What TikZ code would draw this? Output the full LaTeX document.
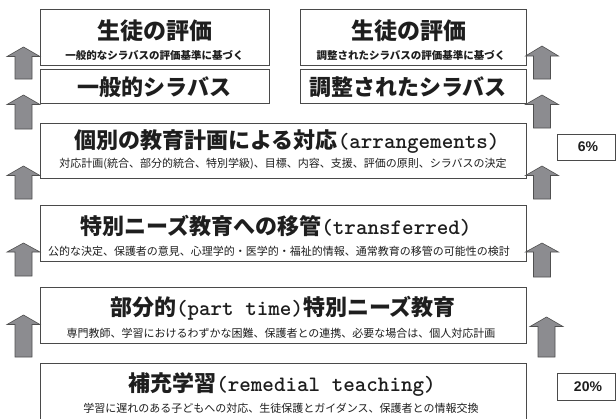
\documentclass[tikz,border=0pt]{standalone}
\usepackage{fontspec}
\newfontfamily\jp{Noto Sans CJK JP}
\newfontfamily\numfont{Liberation Sans}
\definecolor{boxline}{HTML}{4A4A4A}
\definecolor{arrfill}{HTML}{8C8C90}
\definecolor{arrline}{HTML}{505050}
\definecolor{txt}{HTML}{1E1E1E}
\tikzset{
  panel/.style={draw=boxline, line width=0.9pt, fill=white, inner sep=0pt},
  bigtitle/.style={text=txt, inner sep=0pt, font=\jp\bfseries\fontsize{22}{24}\selectfont},
  toptitle/.style={text=txt, inner sep=0pt, font=\jp\bfseries\fontsize{23}{25}\selectfont},
  subbold/.style={text=txt, inner sep=0pt, font=\jp\bfseries\fontsize{10.5}{12}\selectfont},
  subtext/.style={text=txt, inner sep=0pt, font=\jp\fontsize{11}{13}\selectfont},
  pct/.style={text=txt, inner sep=0pt, font=\numfont\bfseries\fontsize{14}{16}\selectfont},
  blockarr/.style={fill=arrfill, draw=arrline, line width=0.6pt, line join=miter}
}
% #1 centre x, #2 tip y, #3 head base y, #4 bottom y
\newcommand{\blkarrow}[4]{%
  \path[blockarr] (#1-8.5,#4) -- (#1-8.5,#3) -- (#1-16.5,#3) -- (#1,#2)
    -- (#1+16.5,#3) -- (#1+8.5,#3) -- (#1+8.5,#4) -- cycle;}
\newcommand{\mono}[1]{{\ttfamily\fontsize{22}{24}\selectfont #1}}
\begin{document}
\begin{tikzpicture}[x=1pt, y=-1pt]
\path[use as bounding box, clip] (0,0) rectangle (616,418);
\fill[white] (0,0) rectangle (616,418);

% boxes
\node[panel, minimum width=229pt, minimum height=56pt] (evalL) at (154.5,37) {};
\node[panel, minimum width=226pt, minimum height=56pt] (evalR) at (413,37) {};
\node[panel, minimum width=229pt, minimum height=34pt] (sylL) at (154.5,86) {};
\node[panel, minimum width=226pt, minimum height=34pt] (sylR) at (413,86) {};
\node[panel, minimum width=486pt, minimum height=55pt] (arr) at (283,150.5) {};
\node[panel, minimum width=486pt, minimum height=56pt] (trans) at (283,233) {};
\node[panel, minimum width=486pt, minimum height=56pt] (part) at (283,315) {};
\node[panel, minimum width=486pt, minimum height=70pt] (rem) at (283,398) {};
\node[panel, minimum width=58pt, minimum height=26pt] (p6) at (586,147) {};
\node[panel, minimum width=58pt, minimum height=27pt] (p20) at (586,386.5) {};

% arrows left
\blkarrow{23.5}{47}{56.5}{79}
\blkarrow{23.5}{95}{104.5}{129}
\blkarrow{23.5}{166}{175.5}{199}
\blkarrow{23.5}{243}{252}{276}
\blkarrow{23.5}{315}{324.5}{357}
% arrows right
\blkarrow{542}{46}{56}{79}
\blkarrow{542}{95}{104.5}{128}
\blkarrow{542}{166}{175.5}{199}
\blkarrow{542}{243}{252}{277}
\blkarrow{546.5}{317}{326.5}{357}

% texts
\node[toptitle] (evalLt) at (154.5,31) {生徒の評価};
\node[subbold] (evalLs) at (154.5,55) {一般的なシラバスの評価基準に基づく};
\node[toptitle] (evalRt) at (409,31) {生徒の評価};
\node[subbold] (evalRs) at (411,55) {調整されたシラバスの評価基準に基づく};
\node[bigtitle] (sylLt) at (154.5,87) {一般的シラバス};
\node[bigtitle] (sylRt) at (408,87) {調整されたシラバス};

\node[bigtitle] (arrt) at (287,142) {個別の教育計画による対応\mono{(arrangements)}};
\node[subtext] (arrs) at (283,164) {対応計画(統合、部分的統合、特別学級)、目標、内容、支援、評価の原則、シラバスの決定};
\node[bigtitle] (transt) at (276,226) {特別ニーズ教育への移管\mono{(transferred)}};
\node[subtext] (transs) at (279,251) {公的な決定、保護者の意見、心理学的・医学的・福祉的情報、通常教育の移管の可能性の検討};
\node[bigtitle] (partt) at (283,308) {部分的\mono{(part time)}特別ニーズ教育};
\node[subtext] (parts) at (281,333) {専門教師、学習におけるわずかな困難、保護者との連携、必要な場合は、個人対応計画};
\node[bigtitle] (remt) at (282,384) {補充学習\mono{(remedial teaching)}};
\node[subtext] (rems) at (281,408) {学習に遅れのある子どもへの対応、生徒保護とガイダンス、保護者との情報交換};

\node[pct] (p6t) at (588,147) {6\%};
\node[pct] (p20t) at (588,386.5) {20\%};
\end{tikzpicture}
\end{document}
